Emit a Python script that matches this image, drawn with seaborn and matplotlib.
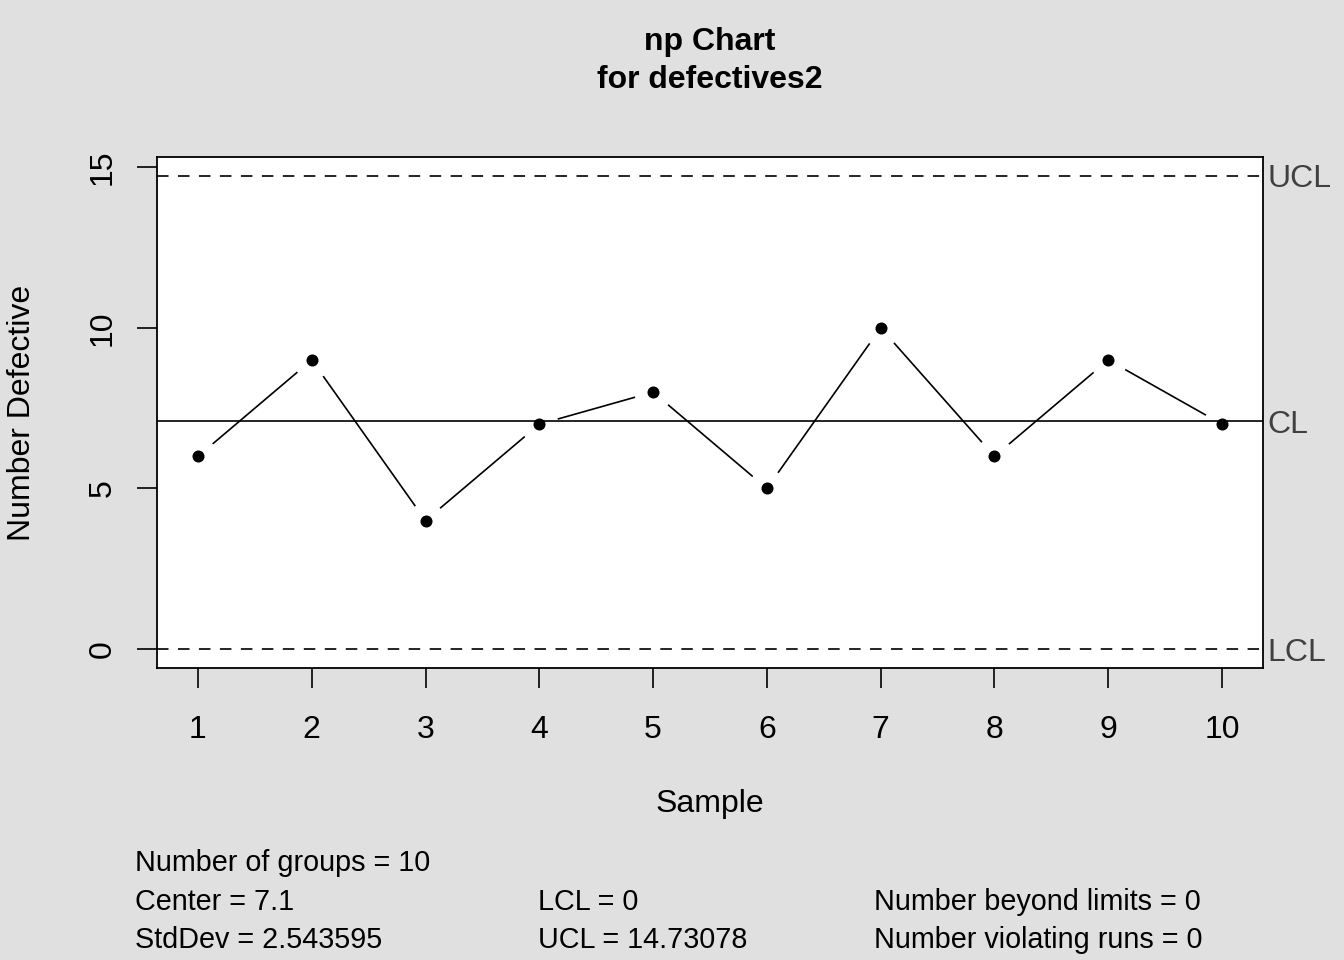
import numpy as np
import pandas as pd
import matplotlib
matplotlib.use("Agg")
import matplotlib.pyplot as plt
import seaborn as sns

# datos del grafico np
samples = list(range(1, 11))
defectives = [6, 9, 4, 7, 8, 5, 10, 6, 9, 7]
center = 7.1
lcl = 0
ucl = 14.73078
std_dev = 2.543595
n_groups = 10
n_beyond = 0
n_runs = 0

df = pd.DataFrame({"Sample": samples, "Defective": defectives})

sns.set_style("white")
plt.rcParams['font.family'] = ['Liberation Sans', 'DejaVu Sans']
plt.rcParams['lines.scale_dashes'] = False
plt.rcParams['text.color'] = 'black'

fig = plt.figure(figsize=(13.44, 9.6), dpi=100, facecolor='#e0e0e0')
ax = fig.add_axes([157 / 1344, 1 - 668 / 960, (1263 - 157) / 1344, (668 - 157) / 960])
ax.set_facecolor('white')

# linea que une los puntos, con huecos alrededor de cada punto (tipo "b" de R)
sns.lineplot(data=df, x="Sample", y="Defective", ax=ax, color='black', lw=1.2, zorder=1)
sns.scatterplot(data=df, x="Sample", y="Defective", ax=ax, color='white', s=750,
                linewidth=0, zorder=2)

# limites de control
dash = (0, (8.3, 6.8))
ax.axhline(ucl, color='black', lw=1.2, ls=dash, zorder=3)
ax.axhline(lcl, color='black', lw=1.2, ls=dash, zorder=3)
ax.axhline(center, color='black', lw=1.2, zorder=3)

sns.scatterplot(data=df, x="Sample", y="Defective", ax=ax, color='black', s=75,
                linewidth=0, zorder=4)

trans = ax.get_yaxis_transform()
for val, lab in [(ucl, "UCL"), (center, "CL"), (lcl, "LCL")]:
    ax.text(1.004, val, lab, transform=trans, ha='left', va='center_baseline',
            fontsize=23, color='#404040')

rng = max(samples) - min(samples)
ax.set_xlim(min(samples) - 0.04 * rng, max(samples) + 0.04 * rng)
yr = ucl - lcl
ax.set_ylim(lcl - 0.04 * yr, ucl + 0.04 * yr)
ax.set_xticks(samples)
ax.set_yticks([0, 5, 10, 15])
ax.set_xlabel("")
ax.set_ylabel("")

for s in ax.spines.values():
    s.set_color('black')
    s.set_linewidth(1.3)
ax.tick_params(direction='out', length=14.5, width=1.2, labelsize=23, color='black',
               labelcolor='black', bottom=True, left=True)
ax.tick_params(axis='x', pad=19)
ax.tick_params(axis='y', pad=14)
for t in ax.get_yticklabels():
    t.set_rotation(90)
    t.set_va('center')

fig.text(710 / 1344, 1 - 804 / 960, "Sample", ha='center', va='center', fontsize=23)
fig.text(22 / 1344, 1 - 413 / 960, "Number Defective", ha='center', va='center',
         fontsize=23, rotation=90)
fig.text(710 / 1344, 1 - 42 / 960, "np Chart", ha='center', va='center', fontsize=23,
         fontweight='bold')
fig.text(710 / 1344, 1 - 80 / 960, "for defectives2", ha='center', va='center',
         fontsize=23, fontweight='bold')

# resumen estadistico
stats = [
    (135, 863, f"Number of groups = {n_groups}"),
    (135, 902, f"Center = {center}"),
    (135, 940, f"StdDev = {std_dev}"),
    (538, 902, f"LCL = {lcl}"),
    (538, 940, f"UCL = {ucl}"),
    (874, 902, f"Number beyond limits = {n_beyond}"),
    (874, 940, f"Number violating runs = {n_runs}"),
]
for x, y, txt in stats:
    fig.text(x / 1344, 1 - y / 960, txt, ha='left', va='center', fontsize=20.7)

fig.savefig("out.png", dpi=100, facecolor=fig.get_facecolor())
